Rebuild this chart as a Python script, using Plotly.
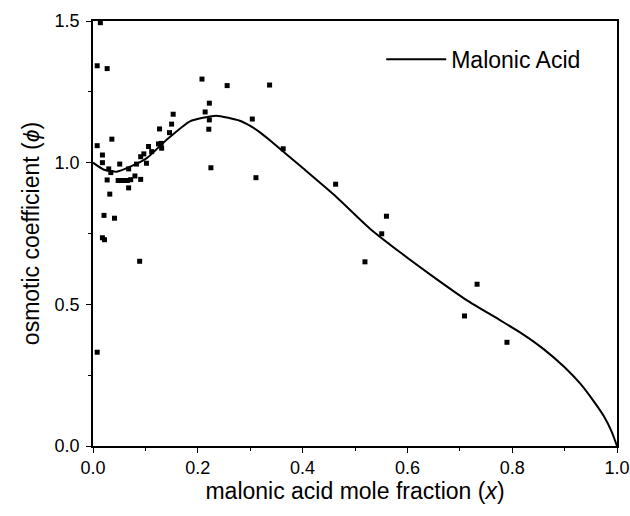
import plotly.graph_objects as go

# Experimental data points (mole fraction, osmotic coefficient)
data_x = [0.008, 0.008, 0.008, 0.014, 0.018, 0.018, 0.018, 0.021, 0.022, 0.027,
          0.027, 0.030, 0.034, 0.032, 0.036, 0.041, 0.048, 0.051, 0.054, 0.060,
          0.066, 0.068, 0.068, 0.072, 0.080, 0.083, 0.089, 0.091, 0.091, 0.097,
          0.102, 0.106, 0.112, 0.125, 0.127, 0.130, 0.131, 0.146, 0.150, 0.153,
          0.208, 0.214, 0.221, 0.222, 0.222, 0.225, 0.256, 0.304, 0.311, 0.337,
          0.363, 0.463, 0.519, 0.551, 0.560, 0.709, 0.733, 0.790]
data_y = [0.331, 1.342, 1.060, 1.494, 1.027, 1.000, 0.735, 0.814, 0.728, 1.332,
          0.939, 0.978, 0.965, 0.889, 1.083, 0.804, 0.937, 0.995, 0.937, 0.937,
          0.937, 0.978, 0.911, 0.940, 0.953, 0.995, 0.652, 0.941, 1.021, 1.031,
          0.998, 1.057, 1.039, 1.066, 1.119, 1.068, 1.051, 1.106, 1.136, 1.171,
          1.295, 1.179, 1.118, 1.151, 1.210, 0.982, 1.272, 1.154, 0.947, 1.274,
          1.049, 0.924, 0.650, 0.749, 0.811, 0.459, 0.571, 0.366]

# Model curve (Malonic Acid)
curve_x = [0.0, 0.02, 0.045, 0.07, 0.102, 0.14, 0.185, 0.235, 0.28, 0.30,
           0.318, 0.337, 0.401, 0.464, 0.528, 0.588, 0.649, 0.713, 0.776, 0.82,
           0.86, 0.90, 0.93, 0.954, 0.975, 0.99, 1.0]
curve_y = [1.0, 0.976, 0.968, 0.985, 1.015, 1.08, 1.146, 1.166, 1.148, 1.130,
           1.108, 1.080, 0.980, 0.880, 0.768, 0.681, 0.598, 0.515, 0.445, 0.395,
           0.342, 0.278, 0.220, 0.162, 0.105, 0.050, 0.0]

x_ticks = [0.0, 0.2, 0.4, 0.6, 0.8, 1.0]
x_tick_labels = ["0.0", "0.2", "0.4", "0.6", "0.8", "1.0"]
y_ticks = [0.0, 0.5, 1.0, 1.5]
y_tick_labels = ["0.0", "0.5", "1.0", "1.5"]

FONT = "Liberation Sans, Arial, sans-serif"

fig = go.Figure()
fig.add_trace(go.Scatter(
    x=data_x, y=data_y, mode="markers",
    marker=dict(symbol="square", size=5, color="black", line=dict(width=0)),
    showlegend=False, cliponaxis=False,
))
fig.add_trace(go.Scatter(
    x=curve_x, y=curve_y, mode="lines", name="Malonic Acid",
    line=dict(color="black", width=2, shape="spline", smoothing=0.5),
))

axis_common = dict(
    showgrid=False, zeroline=False, showline=True, linecolor="black",
    linewidth=1.5, mirror=True, ticks="outside", ticklen=5, tickwidth=1.2,
    tickcolor="black", tickfont=dict(family=FONT, size=18, color="black"),
    automargin=False,
)
fig.update_xaxes(
    range=[0, 1.0], tickvals=x_ticks, ticktext=x_tick_labels,
    minor=dict(dtick=0.1, ticks="outside", ticklen=3, tickcolor="black", tickwidth=1.2),
    title=dict(text="malonic acid mole fraction (<i>x</i>)",
               font=dict(family=FONT, size=23, color="black"), standoff=0),
    **axis_common,
)
fig.update_yaxes(
    range=[0, 1.5], tickvals=y_ticks, ticktext=y_tick_labels,
    minor=dict(dtick=0.25, ticks="outside", ticklen=3, tickcolor="black", tickwidth=1.2),
    title=dict(text="osmotic coefficient (<i>ϕ</i>)",
               font=dict(family=FONT, size=23, color="black"), standoff=9),
    ticklabelstandoff=3,
    **axis_common,
)
fig.update_layout(
    width=630, height=516,
    margin=dict(l=93, r=13, t=21, b=70),
    paper_bgcolor="white", plot_bgcolor="white",
    legend=dict(x=0.55, y=0.91, xanchor="left", yanchor="middle",
                font=dict(family=FONT, size=23, color="black"),
                itemwidth=60, bgcolor="rgba(0,0,0,0)"),
)
fig.write_html("out.html")
